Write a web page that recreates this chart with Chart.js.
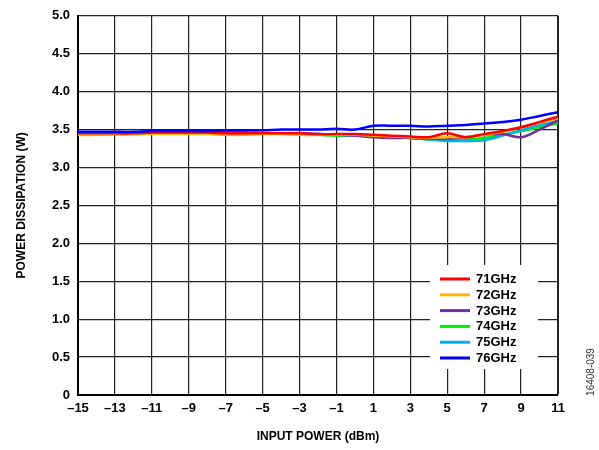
<!DOCTYPE html>
<html>
<head>
<meta charset="utf-8">
<script src="https://cdn.jsdelivr.net/npm/chart.js@4"></script>
<style>
  body { margin: 0; background: #fff; }
  #wrap { width: 599px; height: 450px; }
</style>
</head>
<body>
<div id="wrap"><canvas id="myChart" width="599" height="450"></canvas></div>
<script>
// Input power (dBm)
const inputPower = [-15, -14, -13, -12, -11, -10, -9, -8, -7, -6, -5, -4, -3, -2, -1, 0, 1, 2, 3, 4, 5, 6, 7, 8, 9, 10, 11];

// Power dissipation (W) per frequency
const p71 = [3.45, 3.45, 3.45, 3.45, 3.46, 3.46, 3.46, 3.46, 3.45, 3.45, 3.45, 3.45, 3.45, 3.44, 3.44, 3.44, 3.43, 3.42, 3.41, 3.40, 3.45, 3.40, 3.44, 3.48, 3.53, 3.60, 3.67];
const p72 = [3.43, 3.43, 3.44, 3.44, 3.44, 3.44, 3.44, 3.44, 3.43, 3.43, 3.44, 3.44, 3.43, 3.43, 3.43, 3.43, 3.42, 3.41, 3.40, 3.39, 3.40, 3.40, 3.43, 3.47, 3.53, 3.59, 3.65];
const p73 = [3.45, 3.45, 3.45, 3.45, 3.46, 3.46, 3.46, 3.46, 3.46, 3.46, 3.45, 3.45, 3.45, 3.44, 3.43, 3.42, 3.40, 3.39, 3.39, 3.38, 3.38, 3.40, 3.43, 3.44, 3.40, 3.50, 3.62];
const p74 = [3.44, 3.44, 3.44, 3.44, 3.45, 3.45, 3.45, 3.45, 3.45, 3.45, 3.45, 3.45, 3.44, 3.43, 3.42, 3.42, 3.41, 3.40, 3.39, 3.37, 3.36, 3.37, 3.39, 3.43, 3.48, 3.53, 3.58];
const p75 = [3.45, 3.45, 3.45, 3.45, 3.46, 3.46, 3.46, 3.46, 3.46, 3.46, 3.45, 3.45, 3.45, 3.44, 3.43, 3.42, 3.41, 3.40, 3.39, 3.37, 3.35, 3.35, 3.36, 3.42, 3.49, 3.56, 3.61];
const p76 = [3.47, 3.47, 3.47, 3.47, 3.48, 3.48, 3.48, 3.48, 3.49, 3.49, 3.49, 3.50, 3.50, 3.50, 3.51, 3.50, 3.55, 3.55, 3.55, 3.54, 3.55, 3.56, 3.58, 3.60, 3.63, 3.68, 3.73];

const seriesLabels = ['71GHz', '72GHz', '73GHz', '74GHz', '75GHz', '76GHz'];
const seriesValues = [p71, p72, p73, p74, p75, p76];
const seriesColors = ['#ff0000', '#ffb400', '#7030a0', '#00ee00', '#00b0f0', '#0000ff'];
const seriesOrder = [1, 2, 3, 5, 4, 0];

const FONT = '"Liberation Sans", Arial, sans-serif';

function toPoints(vals) {
    return inputPower.map((x, i) => ({ x: x, y: vals[i] }));
}

// legend drawn inside the plot on a white box
const insideLegend = {
    id: 'insideLegend',
    afterDatasetsDraw(chart) {
        const ctx = chart.ctx;
        ctx.save();
        ctx.fillStyle = '#fff';
        ctx.fillRect(430, 265, 108, 104);
        ctx.font = 'bold 13px ' + FONT;
        ctx.textBaseline = 'middle';
        ctx.textAlign = 'left';
        seriesLabels.forEach((lbl, i) => {
            const y = 279 + i * 15.8;
            ctx.strokeStyle = seriesColors[i];
            ctx.lineWidth = 3;
            ctx.beginPath();
            ctx.moveTo(440, y);
            ctx.lineTo(470, y);
            ctx.stroke();
            ctx.fillStyle = '#000';
            ctx.fillText(lbl, 476, y + 0.5);
        });
        ctx.restore();
    },
    afterDraw(chart) {
        const ctx = chart.ctx;
        ctx.save();
        ctx.translate(591, 372);
        ctx.rotate(-Math.PI / 2);
        ctx.font = '10px "Liberation Sans Narrow", ' + FONT;
        ctx.fillStyle = '#333';
        ctx.textAlign = 'center';
        ctx.textBaseline = 'middle';
        ctx.fillText('16408-039', 0, 0);
        ctx.restore();
    }
};

const ctx = document.getElementById('myChart').getContext('2d');
const chartInstance = new Chart(ctx, {
    type: 'line',
    data: {
        datasets: seriesLabels.map((lbl, i) => ({
            label: lbl,
            data: toPoints(seriesValues[i]),
            borderColor: seriesColors[i],
            backgroundColor: seriesColors[i],
            borderWidth: 2.5,
            pointRadius: 0,
            tension: 0.4,
            fill: false,
            order: seriesOrder[i]
        }))
    },
    options: {
        responsive: false,
        animation: false,
        layout: { padding: { left: 0, top: 12, right: 41, bottom: 0 } },
        plugins: {
            legend: { display: false },
            tooltip: { enabled: false }
        },
        scales: {
            x: {
                type: 'linear',
                min: -15,
                max: 11,
                afterFit: (axis) => { axis.height = 55; },
                ticks: {
                    stepSize: 2,
                    padding: 6,
                    color: '#000',
                    font: { family: FONT, size: 13, weight: 'bold' },
                    callback: (v) => String(v).replace('-', '\u2013')
                },
                grid: {
                    color: '#222',
                    lineWidth: (c) => (c.index === 13 ? 2 : 1.2),
                    drawTicks: false
                },
                border: { color: '#000', width: 2 },
                title: {
                    display: true,
                    text: 'INPUT POWER (dBm)',
                    color: '#000',
                    font: { family: FONT, size: 12, weight: 'bold' },
                    padding: { top: 0, bottom: 6 }
                }
            },
            y: {
                min: 0,
                max: 5,
                afterFit: (axis) => { axis.width = 78; },
                ticks: {
                    stepSize: 0.5,
                    padding: 8,
                    color: '#000',
                    font: { family: FONT, size: 13, weight: 'bold' },
                    callback: (v) => (v === 0 ? '0' : v.toFixed(1))
                },
                grid: {
                    color: '#222',
                    lineWidth: 1.2,
                    drawTicks: false
                },
                border: { color: '#000', width: 2 },
                title: {
                    display: true,
                    text: 'POWER DISSIPATION (W)',
                    color: '#000',
                    font: { family: FONT, size: 12, weight: 'bold' },
                    padding: { top: 14, bottom: 0 }
                }
            }
        }
    },
    plugins: [insideLegend]
});
</script>
</body>
</html>
